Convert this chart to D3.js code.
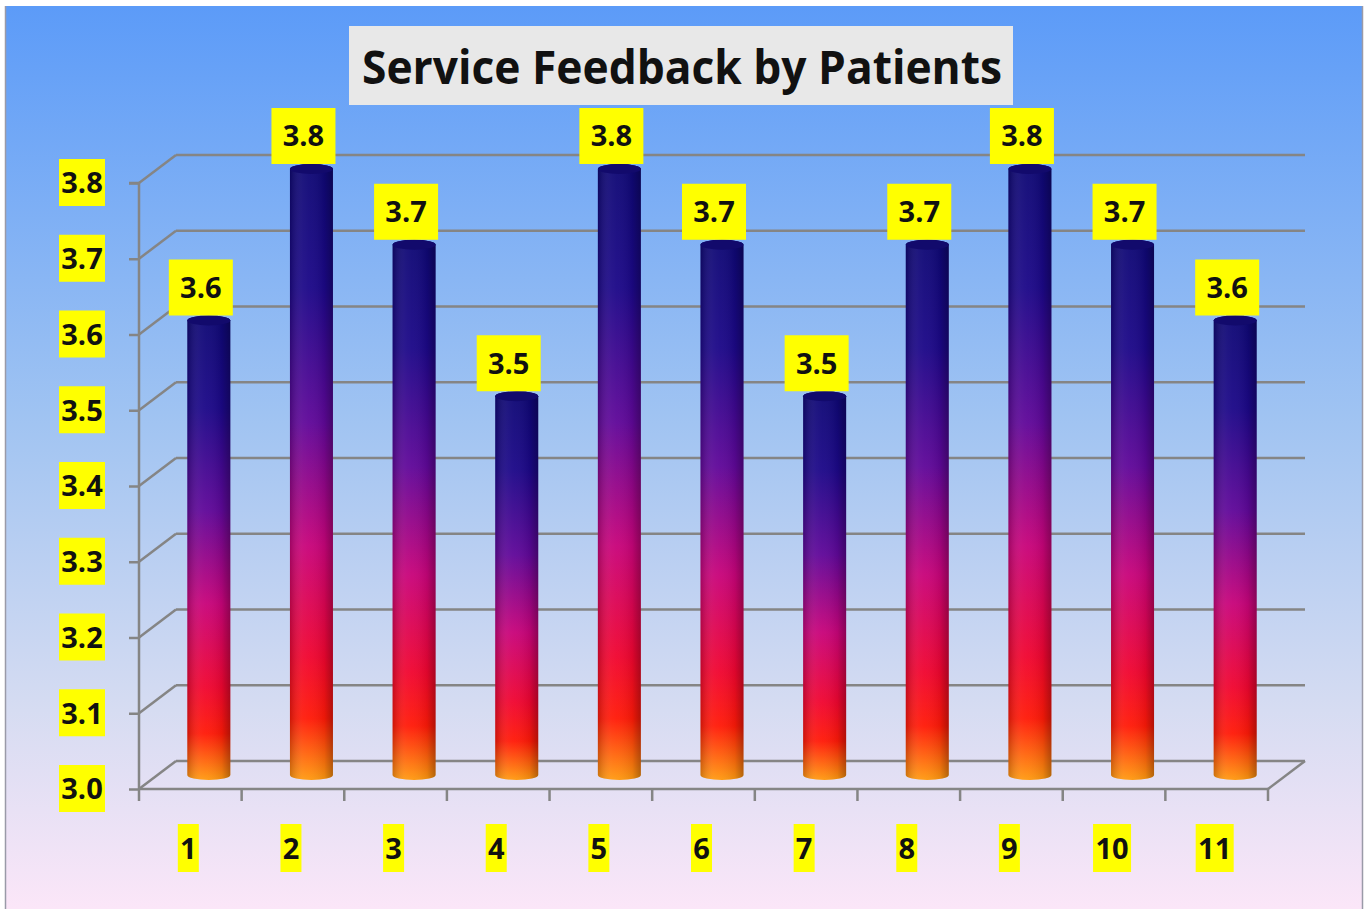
<!DOCTYPE html>
<html>
<head>
<meta charset="utf-8">
<script src="https://cdn.jsdelivr.net/npm/d3@7"></script>
<style>
  body { margin: 0; background: #fff; }
  text { font-family: "Open Sans", sans-serif; font-weight: 700; fill: #111; }
</style>
</head>
<body>
<div id="chart"></div>
<script>
// chart data
const categories = ['1', '2', '3', '4', '5', '6', '7', '8', '9', '10', '11']
const values = [3.6, 3.8, 3.7, 3.5, 3.8, 3.7, 3.5, 3.7, 3.8, 3.7, 3.6]
const yTicks = [3.0, 3.1, 3.2, 3.3, 3.4, 3.5, 3.6, 3.7, 3.8]
const title = 'Service Feedback by Patients'

const W = 1370, H = 909
const depth = { dx: 37, dy: -28 } // 3d offset of the back wall

const svg = d3.select('#chart').append('svg')
  .attr('width', W)
  .attr('height', H)

const defs = svg.append('defs')

// background gradient
const bg = defs.append('linearGradient').attr('id', 'bg')
  .attr('x1', 0).attr('y1', 0).attr('x2', 0).attr('y2', 1)
bg.selectAll('stop')
  .data([[0, '#5c9bf8'], [0.45, '#9fc3f2'], [0.78, '#d6dcf2'], [1, '#fbe6f8']])
  .enter().append('stop')
  .attr('offset', d => d[0]).attr('stop-color', d => d[1])

// bar colour gradient (vertical)
const barGrad = defs.append('linearGradient').attr('id', 'barGrad')
  .attr('x1', 0).attr('y1', 0).attr('x2', 0).attr('y2', 1)
barGrad.selectAll('stop')
  .data([[0, '#0e0874'], [0.2, '#1c0888'], [0.42, '#600899'], [0.62, '#c8047a'],
         [0.8, '#f00630'], [0.9, '#ff1a08'], [1, '#ff9a10']])
  .enter().append('stop')
  .attr('offset', d => d[0]).attr('stop-color', d => d[1])

// cylinder shading (horizontal)
const shade = defs.append('linearGradient').attr('id', 'shade')
  .attr('x1', 0).attr('y1', 0).attr('x2', 1).attr('y2', 0)
shade.selectAll('stop')
  .data([[0, '#000', 0.2], [0.3, '#fff', 0.06], [0.45, '#fff', 0.04], [0.8, '#000', 0.08], [1, '#000', 0.3]])
  .enter().append('stop')
  .attr('offset', d => d[0]).attr('stop-color', d => d[1]).attr('stop-opacity', d => d[2])

svg.append('rect')
  .attr('x', 5).attr('y', 6).attr('width', 1358).attr('height', 903)
  .attr('fill', 'url(#bg)')
svg.append('line').attr('x1', 5.5).attr('x2', 5.5).attr('y1', 6).attr('y2', H)
  .attr('stroke', '#9a9aa8').attr('stroke-width', 1.5)
svg.append('line').attr('x1', 1362.5).attr('x2', 1362.5).attr('y1', 6).attr('y2', H)
  .attr('stroke', '#9a9aa8').attr('stroke-width', 1.5)

// scales (front plane)
const x = d3.scaleBand().domain(categories).range([139, 1268])
const y = d3.scaleLinear().domain([3.0, 3.8]).range([789, 183])
const grid = '#858585'

// back wall gridlines and diagonals
const g = svg.append('g')
yTicks.forEach(t => {
  g.append('line')
    .attr('x1', x.range()[0] + depth.dx).attr('x2', x.range()[1] + depth.dx)
    .attr('y1', y(t) + depth.dy).attr('y2', y(t) + depth.dy)
    .attr('stroke', grid).attr('stroke-width', 2.5)
  g.append('line')
    .attr('x1', x.range()[0]).attr('x2', x.range()[0] + depth.dx)
    .attr('y1', y(t)).attr('y2', y(t) + depth.dy)
    .attr('stroke', grid).attr('stroke-width', 2.5)
})
// floor right edge
g.append('line')
  .attr('x1', x.range()[1]).attr('x2', x.range()[1] + depth.dx)
  .attr('y1', y(3.0)).attr('y2', y(3.0) + depth.dy)
  .attr('stroke', grid).attr('stroke-width', 2.5)

// front axes
const yAxis = d3.axisLeft(y).tickValues(yTicks).tickSize(10).tickFormat('')
svg.append('g').attr('transform', 'translate(139,0)').call(yAxis)
  .call(s => s.selectAll('line,path').attr('stroke', grid).attr('stroke-width', 2.5))
  .call(s => s.select('.domain').attr('d', `M-10,${y(3.8)}H0V${y(3.0)}`))

svg.append('line')
  .attr('x1', x.range()[0]).attr('x2', x.range()[1])
  .attr('y1', y(3.0)).attr('y2', y(3.0))
  .attr('stroke', grid).attr('stroke-width', 2.5)
const bounds = categories.map(c => x(c)).concat([x.range()[1]])
svg.append('g').selectAll('line').data(bounds).enter().append('line')
  .attr('x1', d => d).attr('x2', d => d)
  .attr('y1', y(3.0)).attr('y2', y(3.0) + 12)
  .attr('stroke', grid).attr('stroke-width', 2.5)

// y tick labels
const yl = svg.append('g').selectAll('g').data(yTicks).enter().append('g')
  .attr('transform', d => `translate(82,${y(d)})`)
yl.append('rect').attr('x', -23).attr('y', -24).attr('width', 46).attr('height', 47).attr('fill', '#ffff00')
yl.append('text').attr('text-anchor', 'middle').attr('dy', '0.36em')
  .style('font-size', '29px').text(d => d.toFixed(1))

// x tick labels
const xl = svg.append('g').selectAll('g').data(categories).enter().append('g')
  .attr('transform', d => `translate(${x(d) + x.bandwidth() / 2 - 2},849)`)
xl.append('rect')
  .attr('x', d => -(d.length * 17 + 4) / 2).attr('y', -25)
  .attr('width', d => d.length * 17 + 4).attr('height', 48).attr('fill', '#ffff00')
xl.append('text').attr('text-anchor', 'middle').attr('dy', '0.36em')
  .style('font-size', '29px').text(d => d)

// cylinders
const r = 21.5, ry = 5
const bars = svg.append('g').selectAll('g')
  .data(categories.map((c, i) => ({ c, v: values[i] })))
  .enter().append('g')
  .attr('transform', d => `translate(${x(d.c) + x.bandwidth() / 2 + depth.dx / 2},${depth.dy / 2})`)

const cylPath = d => {
  const top = y(d.v), bot = y(3.0)
  return `M${-r},${top} L${-r},${bot} A${r},${ry} 0 0 0 ${r},${bot} L${r},${top} A${r},${ry} 0 0 0 ${-r},${top} Z`
}
bars.append('path').attr('d', cylPath).attr('fill', 'url(#barGrad)')
bars.append('path').attr('d', cylPath).attr('fill', 'url(#shade)')
bars.append('ellipse')
  .attr('cx', 0).attr('cy', d => y(d.v)).attr('rx', r).attr('ry', ry)
  .attr('fill', '#120a6c')

// value labels
const vl = bars.append('g')
  .attr('transform', d => `translate(-8,${y(d.v) - ry - 28})`)
vl.append('rect').attr('x', -32).attr('y', -28).attr('width', 64).attr('height', 56).attr('fill', '#ffff00')
vl.append('text').attr('text-anchor', 'middle').attr('dy', '0.36em')
  .style('font-size', '29px').text(d => d.v.toFixed(1))

// title
svg.append('rect').attr('x', 349).attr('y', 26).attr('width', 664).attr('height', 79).attr('fill', '#e8e8e8')
svg.append('text').attr('x', 682).attr('y', 84).attr('text-anchor', 'middle')
  .attr('textLength', 640).attr('lengthAdjust', 'spacingAndGlyphs')
  .style('font-size', '46px').text(title)
</script>
</body>
</html>
